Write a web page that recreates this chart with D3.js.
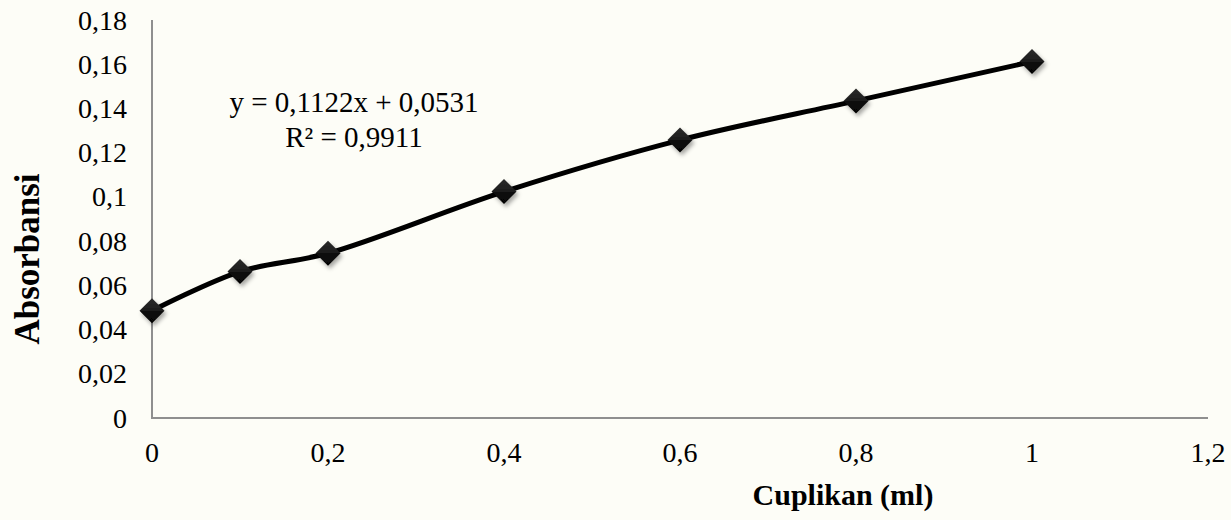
<!DOCTYPE html>
<html lang="en">
<head>
    <meta charset="UTF-8">
    <title>absorbansi vs cuplikan</title>
    <script src="https://d3js.org/d3.v7.min.js"></script>
    <style>
        body {
            margin: 0;
            background: #fdfdf7;
        }
        svg {
            display: block;
            font-family: "Liberation Serif", "Times New Roman", serif;
        }
        .axis-line {
            stroke: #8f8f8f;
            stroke-width: 2;
        }
        .tick-label {
            font-size: 28px;
            fill: #000;
        }
        .axis-title {
            font-size: 30px;
            font-weight: bold;
            fill: #000;
        }
        .axis-title.y {
            font-size: 35px;
        }
        .trend-label {
            font-size: 29px;
            fill: #000;
        }
        .series {
            fill: none;
            stroke: #000;
            stroke-width: 5;
        }
    </style>
</head>
<body>
    <div id="chart"></div>
    <script>
        // data
        const volumes = [0, 0.1, 0.2, 0.4, 0.6, 0.8, 1]
        const absorbance = [0.0485, 0.0662, 0.0745, 0.1024, 0.1257, 0.1434, 0.1612]

        const xTicks = [0, 0.2, 0.4, 0.6, 0.8, 1, 1.2]
        const yTicks = [0, 0.02, 0.04, 0.06, 0.08, 0.1, 0.12, 0.14, 0.16, 0.18]

        const trendLines = ['y = 0,1122x + 0,0531', 'R² = 0,9911']

        const WIDTH = 1231
        const HEIGHT = 520
        const PLOT = { left: 152, right: 1208, top: 20, bottom: 418 }

        const fmt = v => String(v).replace('.', ',')

        const x = d3.scaleLinear().domain([0, 1.2]).range([PLOT.left, PLOT.right])
        const y = d3.scaleLinear().domain([0, 0.18]).range([PLOT.bottom, PLOT.top])

        const svg = d3.select('#chart')
            .append('svg')
            .attr('width', WIDTH)
            .attr('height', HEIGHT)

        const defs = svg.append('defs')

        // marker shading: lighter top half, darker bottom half
        const grad = defs.append('linearGradient')
            .attr('id', 'diamond-fill')
            .attr('x1', 0).attr('y1', 0).attr('x2', 0).attr('y2', 1)
        grad.append('stop').attr('offset', '0%').attr('stop-color', '#2b2b2b')
        grad.append('stop').attr('offset', '50%').attr('stop-color', '#1c1c1c')
        grad.append('stop').attr('offset', '50%').attr('stop-color', '#0a0a0a')
        grad.append('stop').attr('offset', '100%').attr('stop-color', '#050505')

        const shadow = defs.append('filter')
            .attr('id', 'shadow')
            .attr('x', '-50%').attr('y', '-50%').attr('width', '200%').attr('height', '200%')
        shadow.append('feDropShadow')
            .attr('dx', 2).attr('dy', 3)
            .attr('stdDeviation', 2.2)
            .attr('flood-color', '#000')
            .attr('flood-opacity', 0.35)

        // axes
        svg.append('line').attr('class', 'axis-line')
            .attr('x1', x(0)).attr('x2', x(0))
            .attr('y1', y(0.18)).attr('y2', y(0) + 1)
        svg.append('line').attr('class', 'axis-line')
            .attr('x1', x(0) - 1).attr('x2', x(1.2))
            .attr('y1', y(0)).attr('y2', y(0))

        svg.append('g').selectAll('text')
            .data(yTicks).enter()
            .append('text').attr('class', 'tick-label')
            .attr('x', 127)
            .attr('y', d => y(d))
            .attr('dy', '0.34em')
            .attr('text-anchor', 'end')
            .text(d => fmt(d))

        svg.append('g').selectAll('text')
            .data(xTicks).enter()
            .append('text').attr('class', 'tick-label')
            .attr('x', d => x(d))
            .attr('y', y(0) + 34)
            .attr('dy', '0.34em')
            .attr('text-anchor', 'middle')
            .text(d => fmt(d))

        // axis titles
        svg.append('text').attr('class', 'axis-title')
            .attr('x', 843)
            .attr('y', 505)
            .attr('text-anchor', 'middle')
            .text('Cuplikan (ml)')

        svg.append('text').attr('class', 'axis-title y')
            .attr('transform', 'translate(39, 259) rotate(-90)')
            .attr('text-anchor', 'middle')
            .text('Absorbansi')

        // smoothed series
        const points = volumes.map((v, i) => [v, absorbance[i]])
        const line = d3.line()
            .x(d => x(d[0]))
            .y(d => y(d[1]))
            .curve(d3.curveCatmullRom.alpha(0.5))

        svg.append('path').attr('class', 'series')
            .attr('d', line(points))

        const r = 12.5
        svg.append('g').selectAll('path')
            .data(points).enter()
            .append('path')
            .attr('d', `M0,${-r}L${r},0L0,${r}L${-r},0Z`)
            .attr('transform', d => `translate(${x(d[0])},${y(d[1])})`)
            .attr('fill', 'url(#diamond-fill)')
            .attr('filter', 'url(#shadow)')

        // trendline label
        svg.append('g').selectAll('text')
            .data(trendLines).enter()
            .append('text').attr('class', 'trend-label')
            .attr('x', 354)
            .attr('y', (d, i) => 112 + i * 35)
            .attr('text-anchor', 'middle')
            .text(d => d)
    </script>
</body>
</html>
